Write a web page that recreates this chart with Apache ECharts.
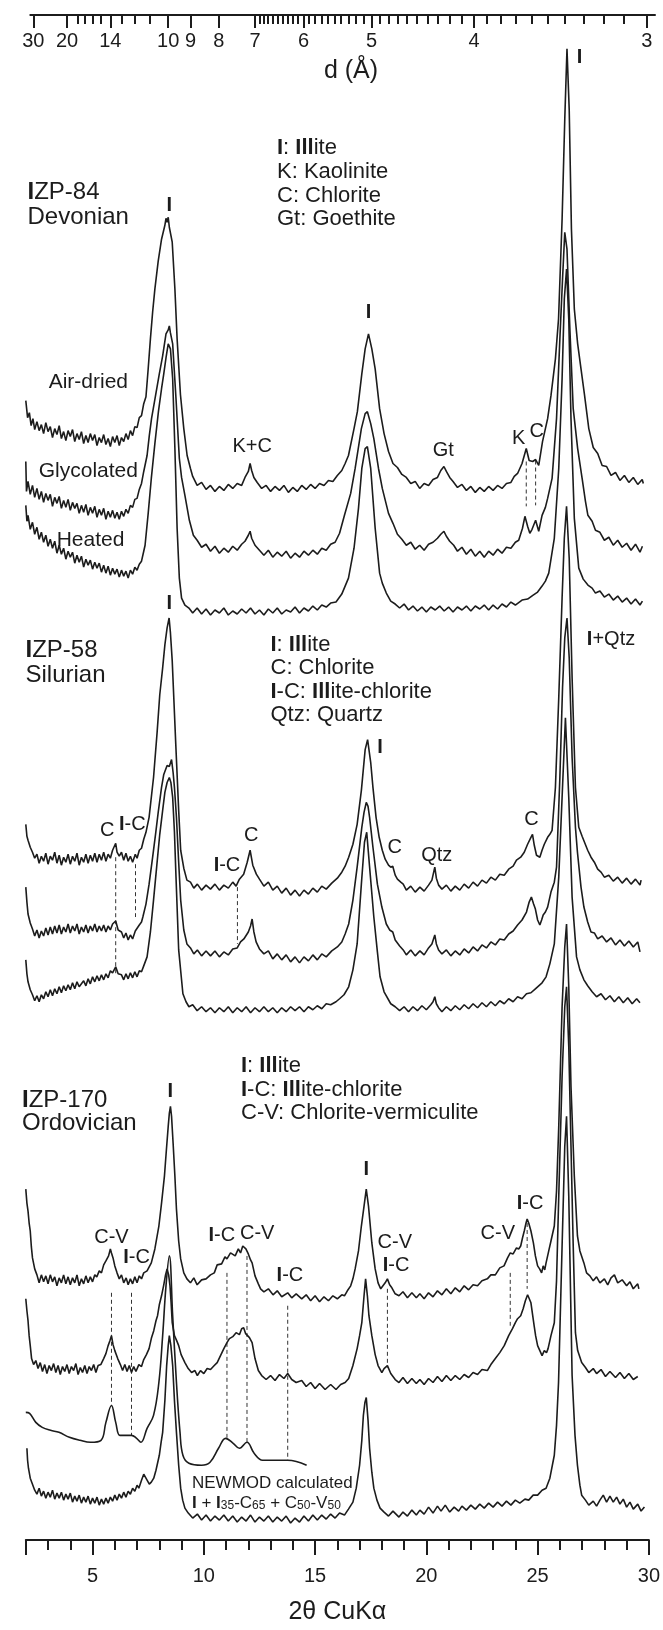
<!DOCTYPE html>
<html><head><meta charset="utf-8">
<script src="https://cdn.jsdelivr.net/npm/echarts/dist/echarts.min.js"></script>
<style>html,body{margin:0;padding:0;background:#fff}#c{width:663px;height:1630px}</style>
</head><body><div id="c"></div>
<script>
// ---------- tick labels ----------
const ttMajorTicks = [2,5,10,15,20,25,30];
const ttLabels = [5,10,15,20,25,30];
const ttMinorTicks = [3,4,6,7,8,9,11,12,13,14,16,17,18,19,21,22,23,24,26,27,28,29];
const dLabels = [30,20,14,10,9,8,7,6,5,4,3];
const dMinorTicks = [18,17,16,15,13,12,11,6.9,6.8,6.7,6.6,6.5,6.4,6.3,6.2,6.1,5.9,5.8,5.7,5.6,5.5,5.4,5.3,5.2,5.1,4.9,4.8,4.7,4.6,4.5,4.4,4.3,4.2,4.1,3.9,3.8,3.7,3.6,3.5,3.4,3.3,3.2,3.1];

// ---------- traces: [2theta, stacked intensity (a.u.)] ----------
const izp84AirDried = [[2.0,1143],[2.08,1126],[2.16,1131],[2.24,1118],[2.32,1125],[2.4,1114],[2.5,1122],[2.6,1113],[2.7,1119],[2.8,1110],[2.9,1121],[3.0,1112],[3.1,1117],[3.2,1106],[3.3,1115],[3.4,1109],[3.5,1118],[3.6,1105],[3.7,1112],[3.8,1103],[3.9,1113],[4.0,1107],[4.1,1114],[4.2,1102],[4.3,1110],[4.4,1104],[4.5,1112],[4.6,1100],[4.7,1108],[4.8,1101],[4.9,1110],[5.0,1103],[5.1,1109],[5.2,1098],[5.3,1106],[5.4,1101],[5.5,1109],[5.6,1099],[5.7,1105],[5.8,1097],[5.9,1107],[6.0,1101],[6.1,1108],[6.2,1098],[6.3,1106],[6.4,1102],[6.5,1110],[6.6,1104],[6.7,1113],[6.8,1108],[6.9,1117],[7.0,1116],[7.1,1126],[7.2,1128],[7.3,1140],[7.4,1147],[7.5,1175],[7.6,1205],[7.7,1232],[7.8,1255],[7.95,1283],[8.1,1305],[8.25,1319],[8.3,1326],[8.35,1322],[8.4,1327],[8.45,1317],[8.58,1302],[8.7,1255],[8.8,1205],[8.95,1149],[9.1,1115],[9.25,1088],[9.4,1075],[9.5,1067],[9.7,1058],[9.9,1061],[10.1,1054],[10.3,1058],[10.5,1052],[10.7,1057],[10.9,1053],[11.1,1059],[11.3,1055],[11.5,1060],[11.7,1058],[11.85,1066],[12.0,1072],[12.08,1080],[12.15,1073],[12.25,1066],[12.4,1061],[12.6,1055],[12.8,1058],[13.0,1052],[13.2,1057],[13.4,1053],[13.6,1058],[13.8,1051],[14.0,1056],[14.2,1052],[14.4,1058],[14.6,1054],[14.8,1059],[15.0,1055],[15.2,1060],[15.4,1058],[15.6,1063],[15.8,1062],[16.0,1068],[16.2,1073],[16.35,1080],[16.5,1088],[16.75,1115],[16.9,1132],[17.1,1170],[17.25,1195],[17.4,1210],[17.55,1195],[17.7,1175],[17.9,1135],[18.1,1110],[18.3,1092],[18.5,1080],[18.7,1076],[18.9,1069],[19.1,1066],[19.3,1060],[19.5,1062],[19.7,1055],[19.9,1060],[20.1,1058],[20.3,1064],[20.5,1066],[20.65,1073],[20.79,1077],[20.9,1072],[21.05,1066],[21.2,1062],[21.4,1056],[21.6,1059],[21.8,1053],[22.0,1057],[22.2,1051],[22.4,1056],[22.6,1052],[22.8,1057],[23.0,1053],[23.2,1058],[23.4,1055],[23.6,1060],[23.8,1061],[23.95,1067],[24.1,1070],[24.3,1080],[24.49,1095],[24.62,1083],[24.78,1082],[24.91,1084],[25.05,1078],[25.22,1102],[25.45,1125],[25.6,1148],[25.8,1185],[25.94,1225],[26.1,1325],[26.22,1425],[26.32,1496],[26.42,1435],[26.52,1315],[26.65,1235],[26.8,1200],[26.95,1175],[27.1,1150],[27.3,1115],[27.5,1096],[27.7,1090],[27.9,1078],[28.1,1077],[28.3,1068],[28.5,1071],[28.7,1063],[28.9,1068],[29.1,1061],[29.3,1066],[29.5,1059],[29.7,1064],[29.75,1060]];
const izp84Glycolated = [[2.0,1082],[2.03,1052],[2.1,1062],[2.2,1049],[2.3,1058],[2.4,1046],[2.5,1055],[2.6,1044],[2.7,1052],[2.8,1041],[2.9,1050],[3.0,1043],[3.1,1049],[3.2,1037],[3.3,1046],[3.4,1040],[3.5,1047],[3.6,1035],[3.7,1043],[3.8,1036],[3.9,1044],[4.0,1033],[4.1,1041],[4.2,1035],[4.3,1040],[4.4,1030],[4.5,1038],[4.6,1031],[4.7,1039],[4.8,1028],[4.9,1036],[5.0,1030],[5.1,1037],[5.2,1026],[5.3,1034],[5.4,1028],[5.5,1035],[5.6,1024],[5.7,1032],[5.8,1026],[5.9,1033],[6.0,1025],[6.1,1031],[6.2,1024],[6.3,1032],[6.4,1027],[6.5,1034],[6.6,1030],[6.7,1038],[6.8,1036],[6.9,1044],[7.0,1045],[7.1,1054],[7.2,1060],[7.3,1072],[7.45,1088],[7.55,1108],[7.65,1125],[7.83,1148],[8.0,1170],[8.15,1188],[8.3,1210],[8.4,1214],[8.45,1218],[8.5,1211],[8.6,1200],[8.75,1145],[8.9,1085],[9.0,1066],[9.15,1048],[9.35,1023],[9.53,1008],[9.7,1003],[9.9,996],[10.1,999],[10.3,992],[10.5,997],[10.7,990],[10.9,995],[11.1,991],[11.3,997],[11.5,993],[11.7,999],[11.85,1002],[12.0,1008],[12.08,1012],[12.15,1005],[12.3,998],[12.5,993],[12.7,988],[12.9,993],[13.1,986],[13.3,991],[13.5,987],[13.7,992],[13.9,985],[14.1,990],[14.3,986],[14.5,992],[14.7,988],[14.9,993],[15.1,989],[15.3,995],[15.5,993],[15.7,999],[15.9,1001],[16.1,1010],[16.32,1028],[16.6,1050],[16.8,1075],[17.08,1115],[17.25,1130],[17.35,1132],[17.5,1120],[17.64,1105],[17.85,1075],[18.02,1055],[18.3,1030],[18.5,1020],[18.7,1009],[18.9,1004],[19.1,998],[19.3,1001],[19.5,994],[19.7,998],[19.9,993],[20.1,999],[20.3,1001],[20.5,1005],[20.65,1009],[20.79,1012],[20.9,1007],[21.05,1002],[21.23,998],[21.4,992],[21.6,996],[21.8,989],[22.0,994],[22.2,987],[22.4,992],[22.6,986],[22.8,992],[23.0,988],[23.2,994],[23.4,990],[23.6,996],[23.8,995],[24.0,1001],[24.15,1003],[24.32,1015],[24.43,1027],[24.55,1017],[24.65,1010],[24.75,1014],[24.91,1023],[25.05,1012],[25.2,1028],[25.35,1036],[25.45,1045],[25.65,1065],[25.85,1125],[26.0,1205],[26.12,1265],[26.22,1312],[26.32,1295],[26.45,1215],[26.6,1135],[26.8,1095],[27.0,1065],[27.15,1042],[27.26,1028],[27.45,1022],[27.6,1013],[27.8,1011],[28.0,1003],[28.2,1006],[28.4,998],[28.6,1003],[28.8,996],[29.0,1000],[29.2,993],[29.4,999],[29.6,991],[29.71,997]];
const izp84Heated = [[2.0,1038],[2.05,1022],[2.1,1028],[2.2,1014],[2.3,1021],[2.4,1009],[2.5,1016],[2.6,1004],[2.7,1011],[2.8,1001],[2.9,1008],[3.0,997],[3.1,1004],[3.2,995],[3.3,1002],[3.4,990],[3.5,998],[3.6,989],[3.7,995],[3.8,984],[3.9,992],[4.0,986],[4.1,991],[4.2,980],[4.3,988],[4.4,981],[4.5,987],[4.6,976],[4.7,984],[4.8,978],[4.9,983],[5.0,974],[5.1,981],[5.2,975],[5.3,980],[5.4,971],[5.5,978],[5.6,970],[5.7,977],[5.8,968],[5.9,975],[6.0,969],[6.1,974],[6.2,966],[6.3,973],[6.4,967],[6.5,972],[6.6,965],[6.7,973],[6.8,969],[6.9,976],[7.0,973],[7.1,979],[7.2,982],[7.3,992],[7.36,998],[7.5,1030],[7.64,1065],[7.8,1100],[7.96,1132],[8.1,1155],[8.2,1170],[8.3,1186],[8.4,1200],[8.5,1195],[8.6,1165],[8.7,1095],[8.8,1015],[8.9,965],[9.0,945],[9.15,938],[9.33,935],[9.5,930],[9.7,935],[9.9,929],[10.1,934],[10.3,928],[10.5,933],[10.7,930],[10.9,935],[11.1,928],[11.3,932],[11.5,929],[11.7,934],[11.9,930],[12.1,935],[12.3,929],[12.5,933],[12.7,928],[12.9,934],[13.1,930],[13.3,935],[13.5,929],[13.7,933],[13.9,931],[14.1,936],[14.3,930],[14.5,935],[14.7,932],[14.9,937],[15.1,933],[15.3,938],[15.5,936],[15.7,940],[15.94,941],[16.2,949],[16.5,965],[16.75,995],[16.95,1035],[17.1,1075],[17.25,1095],[17.35,1097],[17.5,1075],[17.7,1015],[17.9,970],[18.02,960],[18.2,950],[18.4,942],[18.6,939],[18.8,935],[19.0,939],[19.2,933],[19.4,937],[19.6,932],[19.8,936],[20.0,931],[20.2,936],[20.4,933],[20.6,937],[20.8,932],[21.0,936],[21.2,931],[21.4,936],[21.6,933],[21.8,937],[22.0,932],[22.2,937],[22.4,934],[22.6,938],[22.8,933],[23.0,938],[23.2,934],[23.4,939],[23.6,936],[23.8,941],[24.0,938],[24.3,943],[24.55,944],[24.8,948],[25.0,951],[25.2,957],[25.35,962],[25.5,970],[25.75,1005],[25.95,1075],[26.1,1165],[26.2,1245],[26.3,1275],[26.4,1225],[26.5,1125],[26.65,1025],[26.85,975],[27.05,964],[27.26,958],[27.45,955],[27.6,950],[27.8,952],[28.0,946],[28.2,949],[28.4,943],[28.6,947],[28.8,941],[29.0,945],[29.2,939],[29.4,944],[29.6,938],[29.71,942]];
const izp58AirDried = [[2.0,718],[2.05,706],[2.1,702],[2.2,695],[2.3,690],[2.4,684],[2.5,688],[2.6,679],[2.7,686],[2.8,681],[2.9,689],[3.0,678],[3.1,686],[3.2,682],[3.3,690],[3.4,679],[3.5,687],[3.6,677],[3.7,685],[3.8,680],[3.9,688],[4.0,678],[4.1,686],[4.2,681],[4.3,689],[4.4,677],[4.5,685],[4.6,680],[4.7,688],[4.8,679],[4.9,687],[5.0,681],[5.1,689],[5.2,680],[5.3,688],[5.4,682],[5.5,690],[5.6,681],[5.7,688],[5.8,684],[5.9,692],[5.98,690],[6.04,699],[6.1,690],[6.2,686],[6.3,690],[6.4,682],[6.5,689],[6.6,681],[6.7,686],[6.8,680],[6.92,688],[7.0,684],[7.1,692],[7.2,694],[7.3,703],[7.4,710],[7.54,725],[7.74,765],[7.9,810],[8.02,848],[8.15,875],[8.25,898],[8.35,915],[8.44,925],[8.5,910],[8.58,882],[8.66,840],[8.74,798],[8.87,732],[8.96,692],[9.1,674],[9.24,662],[9.4,660],[9.55,654],[9.71,658],[9.9,652],[10.1,657],[10.3,653],[10.5,658],[10.7,652],[10.9,657],[11.1,654],[11.3,660],[11.45,656],[11.6,663],[11.79,668],[11.95,680],[12.08,692],[12.2,677],[12.36,668],[12.5,663],[12.7,656],[12.9,660],[13.1,652],[13.3,656],[13.5,649],[13.7,654],[13.9,647],[14.1,652],[14.3,646],[14.5,652],[14.7,648],[14.9,654],[15.1,650],[15.3,656],[15.5,653],[15.75,659],[16.0,664],[16.2,670],[16.35,676],[16.51,685],[16.7,698],[16.89,718],[17.08,752],[17.25,793],[17.36,803],[17.5,780],[17.6,755],[17.74,725],[17.88,705],[18.02,692],[18.15,683],[18.3,677],[18.4,675],[18.49,676],[18.6,667],[18.7,663],[18.85,660],[18.96,658],[19.1,652],[19.3,656],[19.5,650],[19.71,655],[19.9,651],[20.1,657],[20.25,662],[20.38,675],[20.45,664],[20.55,657],[20.7,653],[20.9,657],[21.1,651],[21.3,656],[21.5,652],[21.7,658],[21.9,654],[22.1,660],[22.3,656],[22.5,662],[22.7,659],[22.9,665],[23.1,662],[23.3,668],[23.5,667],[23.7,673],[23.9,676],[24.05,682],[24.24,685],[24.4,690],[24.55,698],[24.7,705],[24.77,708],[24.85,697],[24.95,687],[25.1,685],[25.2,692],[25.3,698],[25.45,705],[25.55,708],[25.65,712],[25.8,755],[25.95,845],[26.1,945],[26.2,1005],[26.3,1037],[26.42,985],[26.55,865],[26.7,755],[26.85,715],[27.0,706],[27.08,705],[27.25,692],[27.4,685],[27.55,680],[27.7,673],[27.85,670],[28.0,665],[28.2,667],[28.4,661],[28.6,665],[28.8,659],[29.0,664],[29.2,658],[29.4,663],[29.6,657],[29.65,662]];
const izp58Glycolated = [[2.0,655],[2.05,640],[2.1,628],[2.2,619],[2.3,613],[2.4,606],[2.5,612],[2.6,604],[2.7,611],[2.8,606],[2.9,614],[3.0,607],[3.1,615],[3.2,608],[3.3,616],[3.4,609],[3.5,617],[3.6,608],[3.7,615],[3.8,610],[3.9,618],[4.0,609],[4.1,616],[4.2,611],[4.3,618],[4.4,608],[4.5,615],[4.6,610],[4.7,617],[4.8,609],[4.9,616],[5.0,611],[5.1,618],[5.2,610],[5.3,616],[5.4,611],[5.5,617],[5.6,610],[5.7,616],[5.8,612],[5.9,618],[6.04,621],[6.15,612],[6.3,610],[6.4,604],[6.5,609],[6.6,602],[6.7,607],[6.8,603],[6.92,611],[7.0,609],[7.1,617],[7.2,620],[7.26,625],[7.4,638],[7.54,658],[7.7,685],[7.83,708],[7.95,730],[8.1,755],[8.2,768],[8.35,777],[8.45,776],[8.55,783],[8.62,770],[8.68,755],[8.77,725],[8.87,680],[8.96,642],[9.1,612],[9.24,598],[9.4,594],[9.55,588],[9.71,592],[9.9,586],[10.1,591],[10.3,586],[10.5,591],[10.7,585],[10.9,590],[11.1,587],[11.3,593],[11.5,594],[11.65,600],[11.8,603],[12.0,610],[12.1,616],[12.17,623],[12.25,610],[12.35,600],[12.5,593],[12.7,588],[12.9,591],[13.1,583],[13.3,588],[13.5,582],[13.7,587],[13.9,580],[14.1,585],[14.3,579],[14.5,585],[14.7,581],[14.9,587],[15.1,582],[15.3,588],[15.5,585],[15.75,591],[16.0,595],[16.2,600],[16.35,608],[16.51,618],[16.7,642],[16.89,675],[17.1,715],[17.2,730],[17.3,740],[17.38,736],[17.45,725],[17.6,695],[17.8,658],[18.0,635],[18.2,618],[18.35,612],[18.49,610],[18.6,602],[18.8,596],[18.96,592],[19.1,587],[19.3,592],[19.5,586],[19.71,591],[19.9,587],[20.1,594],[20.25,598],[20.38,607],[20.45,598],[20.55,592],[20.7,588],[20.9,592],[21.1,586],[21.3,591],[21.5,587],[21.7,593],[21.9,589],[22.1,595],[22.3,591],[22.5,597],[22.7,594],[22.9,600],[23.1,597],[23.3,603],[23.5,602],[23.7,608],[23.9,611],[24.1,617],[24.3,622],[24.5,630],[24.62,640],[24.72,645],[24.82,638],[24.9,633],[25.0,622],[25.1,617],[25.18,622],[25.25,627],[25.35,630],[25.45,635],[25.6,650],[25.75,660],[25.85,675],[26.0,765],[26.12,855],[26.22,905],[26.32,925],[26.42,885],[26.55,785],[26.7,715],[26.79,690],[26.95,655],[27.08,635],[27.25,620],[27.4,610],[27.55,609],[27.7,603],[27.9,606],[28.1,600],[28.3,604],[28.5,597],[28.7,602],[28.9,596],[29.1,601],[29.3,595],[29.5,600],[29.6,590]];
const izp58Heated = [[2.0,582],[2.05,568],[2.1,560],[2.2,552],[2.3,547],[2.4,541],[2.5,546],[2.6,540],[2.7,547],[2.8,543],[2.9,550],[3.0,545],[3.1,552],[3.2,546],[3.3,553],[3.4,548],[3.5,555],[3.6,549],[3.7,556],[3.8,551],[3.9,557],[4.0,552],[4.1,559],[4.2,553],[4.3,560],[4.4,555],[4.6,561],[4.7,556],[4.8,563],[4.9,558],[5.0,565],[5.1,560],[5.2,566],[5.3,561],[5.4,567],[5.5,562],[5.6,568],[5.7,564],[5.8,571],[5.9,569],[6.04,575],[6.15,568],[6.3,567],[6.4,562],[6.5,568],[6.6,563],[6.7,569],[6.8,564],[6.9,570],[7.0,565],[7.1,571],[7.2,570],[7.3,576],[7.45,585],[7.6,610],[7.74,642],[7.88,675],[8.02,708],[8.15,732],[8.25,750],[8.35,760],[8.45,765],[8.52,760],[8.6,745],[8.68,710],[8.75,665],[8.87,592],[9.06,548],[9.2,540],[9.33,535],[9.5,537],[9.7,531],[9.9,535],[10.1,530],[10.3,534],[10.5,529],[10.7,534],[10.9,530],[11.1,535],[11.3,529],[11.5,534],[11.7,530],[11.9,535],[12.1,529],[12.3,534],[12.5,530],[12.7,535],[12.9,530],[13.1,534],[13.3,529],[13.5,534],[13.7,530],[13.9,535],[14.1,531],[14.3,535],[14.5,530],[14.7,535],[14.9,532],[15.1,536],[15.3,533],[15.5,538],[15.7,537],[15.94,540],[16.1,543],[16.3,547],[16.51,555],[16.7,572],[16.89,598],[17.08,658],[17.22,700],[17.32,710],[17.45,675],[17.64,625],[17.8,590],[17.92,565],[18.1,550],[18.4,538],[18.6,535],[18.8,531],[19.0,535],[19.2,530],[19.4,535],[19.6,531],[19.8,536],[20.0,532],[20.2,537],[20.3,540],[20.38,545],[20.45,538],[20.55,534],[20.7,530],[20.9,535],[21.1,531],[21.3,536],[21.5,532],[21.7,537],[21.9,533],[22.1,538],[22.3,534],[22.5,539],[22.7,535],[22.9,540],[23.1,536],[23.3,541],[23.5,538],[23.7,543],[23.9,540],[24.1,545],[24.3,543],[24.5,548],[24.7,549],[24.9,553],[25.0,555],[25.2,559],[25.38,565],[25.55,578],[25.75,598],[25.95,665],[26.1,745],[26.25,825],[26.4,745],[26.55,645],[26.75,585],[26.9,572],[27.08,562],[27.25,556],[27.45,550],[27.65,545],[27.85,548],[28.05,542],[28.25,546],[28.45,540],[28.65,545],[28.85,539],[29.05,544],[29.25,538],[29.45,543],[29.6,539]];
const izp170AirDried = [[2.0,352],[2.05,338],[2.1,330],[2.15,318],[2.2,310],[2.25,294],[2.3,283],[2.4,272],[2.5,266],[2.6,258],[2.7,266],[2.8,259],[2.9,265],[3.0,257],[3.1,266],[3.2,259],[3.3,264],[3.4,255],[3.5,263],[3.6,258],[3.7,266],[3.8,257],[3.9,264],[4.0,256],[4.1,263],[4.2,258],[4.3,266],[4.4,255],[4.5,262],[4.6,257],[4.7,265],[4.8,258],[4.9,264],[5.0,259],[5.1,266],[5.19,264],[5.3,270],[5.4,268],[5.5,276],[5.6,280],[5.72,285],[5.8,292],[5.85,288],[5.92,283],[6.0,275],[6.1,268],[6.2,262],[6.3,266],[6.4,258],[6.51,263],[6.6,256],[6.7,262],[6.8,257],[6.9,264],[7.0,258],[7.1,265],[7.2,262],[7.3,268],[7.45,270],[7.64,278],[7.8,292],[7.98,315],[8.1,338],[8.23,365],[8.32,392],[8.4,415],[8.45,428],[8.5,435],[8.55,425],[8.62,398],[8.7,365],[8.77,332],[8.87,300],[8.96,282],[9.1,268],[9.24,262],[9.4,258],[9.55,263],[9.7,256],[9.9,261],[10.1,262],[10.3,266],[10.47,268],[10.6,276],[10.8,277],[10.95,284],[11.04,282],[11.2,288],[11.41,285],[11.55,292],[11.65,288],[11.75,295],[11.89,292],[12.0,287],[12.1,281],[12.17,278],[12.3,265],[12.45,257],[12.55,252],[12.7,249],[12.9,252],[13.11,246],[13.3,250],[13.5,244],[13.77,248],[13.95,243],[14.15,247],[14.4,242],[14.6,246],[14.8,240],[15.0,245],[15.2,239],[15.4,244],[15.6,240],[15.8,245],[16.0,242],[16.2,246],[16.32,245],[16.45,250],[16.6,255],[16.7,262],[16.8,272],[16.95,290],[17.08,315],[17.2,335],[17.3,352],[17.4,335],[17.55,298],[17.7,272],[17.83,258],[17.95,252],[18.05,255],[18.15,258],[18.25,262],[18.35,256],[18.45,253],[18.6,247],[18.77,245],[18.95,249],[19.15,243],[19.35,248],[19.55,243],[19.71,247],[19.9,242],[20.1,248],[20.3,244],[20.5,250],[20.7,246],[20.9,252],[21.1,247],[21.3,253],[21.5,249],[21.7,255],[21.9,251],[22.1,256],[22.3,255],[22.5,260],[22.74,262],[22.9,266],[23.1,266],[23.3,273],[23.49,275],[23.65,283],[23.77,288],[23.9,287],[24.05,293],[24.15,292],[24.24,295],[24.32,303],[24.4,310],[24.48,318],[24.53,322],[24.6,318],[24.7,310],[24.81,298],[24.9,285],[25.0,275],[25.09,272],[25.18,268],[25.25,275],[25.32,271],[25.38,278],[25.5,290],[25.6,300],[25.75,315],[25.85,350],[25.95,415],[26.1,535],[26.22,595],[26.3,618],[26.4,555],[26.5,455],[26.65,365],[26.79,305],[26.9,290],[27.08,278],[27.2,268],[27.35,265],[27.5,260],[27.65,264],[27.8,258],[28.0,262],[28.15,256],[28.3,263],[28.45,266],[28.6,258],[28.8,261],[29.0,255],[29.15,259],[29.3,252],[29.5,257],[29.55,252]];
const izp170Glycolated = [[2.0,242],[2.05,230],[2.1,220],[2.15,205],[2.2,195],[2.26,182],[2.35,176],[2.45,180],[2.55,172],[2.65,178],[2.75,169],[2.85,176],[2.95,167],[3.05,175],[3.15,170],[3.25,177],[3.35,168],[3.45,175],[3.55,166],[3.65,174],[3.75,169],[3.85,176],[3.95,167],[4.05,174],[4.15,170],[4.25,177],[4.35,166],[4.45,173],[4.55,168],[4.65,175],[4.75,167],[4.85,174],[4.95,170],[5.05,176],[5.15,168],[5.25,175],[5.37,176],[5.5,182],[5.6,187],[5.7,195],[5.78,200],[5.85,205],[5.92,196],[6.0,190],[6.13,182],[6.25,176],[6.35,170],[6.45,176],[6.55,169],[6.65,175],[6.75,168],[6.85,174],[6.95,169],[7.08,176],[7.2,174],[7.3,181],[7.42,186],[7.54,192],[7.65,203],[7.75,210],[7.85,220],[7.92,225],[8.0,236],[8.1,245],[8.2,256],[8.28,266],[8.35,272],[8.42,266],[8.48,255],[8.53,238],[8.58,218],[8.68,205],[8.78,200],[8.87,195],[8.98,186],[9.15,178],[9.3,172],[9.45,168],[9.6,170],[9.71,165],[9.85,170],[10.0,167],[10.15,172],[10.3,171],[10.47,175],[10.6,178],[10.75,185],[10.9,192],[11.04,198],[11.15,202],[11.3,204],[11.45,208],[11.6,206],[11.7,212],[11.79,213],[11.88,207],[11.95,208],[12.05,203],[12.17,198],[12.3,182],[12.45,170],[12.6,165],[12.8,161],[13.0,165],[13.2,160],[13.4,166],[13.6,162],[13.77,167],[13.95,161],[14.15,158],[14.4,160],[14.6,154],[14.8,158],[15.0,152],[15.2,157],[15.45,151],[15.7,156],[15.94,151],[16.15,156],[16.35,158],[16.51,162],[16.7,175],[16.89,192],[17.0,205],[17.1,218],[17.2,245],[17.27,262],[17.35,245],[17.42,225],[17.55,205],[17.7,186],[17.83,175],[18.0,168],[18.1,172],[18.25,175],[18.4,167],[18.6,161],[18.77,158],[18.95,163],[19.15,157],[19.35,162],[19.55,157],[19.71,161],[19.9,156],[20.1,162],[20.3,158],[20.5,164],[20.7,159],[20.9,165],[21.1,160],[21.3,165],[21.5,161],[21.7,166],[21.9,163],[22.1,168],[22.3,166],[22.5,171],[22.74,170],[22.9,176],[23.1,182],[23.3,188],[23.5,195],[23.7,205],[23.87,212],[24.0,218],[24.1,222],[24.24,225],[24.35,232],[24.45,240],[24.55,246],[24.62,248],[24.7,238],[24.78,225],[24.85,214],[24.91,205],[25.0,195],[25.1,190],[25.2,185],[25.3,190],[25.4,188],[25.47,192],[25.6,205],[25.75,218],[25.85,260],[25.95,345],[26.1,465],[26.22,535],[26.3,555],[26.4,495],[26.5,395],[26.6,295],[26.7,208],[26.8,190],[26.98,178],[27.15,173],[27.3,168],[27.5,172],[27.65,167],[27.85,171],[28.05,164],[28.25,169],[28.5,163],[28.7,168],[28.9,162],[29.1,167],[29.3,161],[29.5,164]];
const izp170Newmod = [[2.0,128],[2.17,127],[2.45,118],[2.74,113],[3.11,110],[3.49,108],[3.96,103],[4.43,100],[4.91,98],[5.38,100],[5.6,118],[5.85,135],[6.04,118],[6.23,105],[6.51,105],[6.75,105],[6.98,102],[7.17,98],[7.45,112],[7.74,125],[7.98,158],[8.15,205],[8.3,255],[8.45,285],[8.6,225],[8.77,158],[8.93,108],[9.06,85],[9.33,77],[9.9,75],[10.28,78],[10.66,92],[10.98,102],[11.32,97],[11.6,92],[11.94,98],[12.26,87],[12.64,80],[13.11,80],[13.77,80],[14.62,75]];
const izp170Heated = [[2.05,92],[2.08,80],[2.12,72],[2.2,62],[2.3,56],[2.4,50],[2.5,46],[2.6,52],[2.7,44],[2.8,49],[2.9,42],[3.0,48],[3.1,43],[3.2,50],[3.3,41],[3.4,47],[3.5,42],[3.6,48],[3.7,40],[3.8,46],[3.9,41],[4.0,47],[4.1,38],[4.2,44],[4.3,39],[4.4,45],[4.5,37],[4.6,43],[4.7,38],[4.8,44],[4.9,36],[5.0,42],[5.1,37],[5.2,43],[5.3,35],[5.4,41],[5.5,36],[5.6,42],[5.7,37],[5.8,43],[5.9,39],[6.0,45],[6.1,40],[6.2,46],[6.3,42],[6.4,48],[6.5,43],[6.6,49],[6.7,46],[6.8,52],[6.9,49],[7.0,55],[7.08,52],[7.2,60],[7.3,66],[7.36,68],[7.45,60],[7.55,56],[7.64,58],[7.75,62],[7.85,70],[7.92,72],[8.0,85],[8.08,98],[8.15,108],[8.25,140],[8.33,175],[8.4,195],[8.45,205],[8.52,195],[8.6,175],[8.68,140],[8.77,108],[8.87,75],[8.96,52],[9.05,40],[9.15,32],[9.3,27],[9.5,22],[9.71,26],[9.9,20],[10.1,25],[10.3,19],[10.5,24],[10.7,20],[10.9,25],[11.1,19],[11.3,24],[11.5,18],[11.7,23],[11.9,19],[12.1,25],[12.3,18],[12.5,23],[12.7,19],[12.9,24],[13.1,18],[13.3,23],[13.5,19],[13.7,24],[13.9,17],[14.1,22],[14.3,18],[14.5,24],[14.7,19],[14.9,25],[15.1,20],[15.3,25],[15.5,21],[15.7,26],[15.9,22],[16.1,27],[16.32,25],[16.5,31],[16.7,38],[16.85,52],[17.0,75],[17.1,100],[17.17,125],[17.24,138],[17.3,143],[17.38,120],[17.45,92],[17.55,68],[17.64,52],[17.78,40],[17.92,32],[18.1,28],[18.3,24],[18.5,29],[18.77,23],[18.95,28],[19.15,24],[19.35,30],[19.55,25],[19.71,30],[19.9,26],[20.1,33],[20.3,27],[20.5,34],[20.66,29],[20.85,35],[21.05,28],[21.25,33],[21.45,29],[21.6,34],[21.8,30],[22.0,35],[22.2,31],[22.4,36],[22.6,32],[22.8,37],[23.0,33],[23.2,38],[23.4,34],[23.6,39],[23.8,35],[24.0,40],[24.2,37],[24.43,41],[24.6,40],[24.8,45],[25.0,45],[25.2,50],[25.38,52],[25.55,62],[25.75,85],[25.85,115],[25.94,158],[26.1,295],[26.22,395],[26.3,425],[26.4,345],[26.55,165],[26.68,105],[26.79,75],[26.9,55],[26.98,45],[27.15,40],[27.3,35],[27.5,39],[27.65,34],[27.8,40],[27.95,45],[28.1,38],[28.25,44],[28.4,38],[28.55,43],[28.7,36],[28.85,41],[29.0,33],[29.15,38],[29.3,31],[29.5,36],[29.65,29],[29.8,33]];

// dashed peak markers: [2theta, upper, lower]
const dashedMarkers = [[24.49,1082,1037],[24.91,1083,1038],[6.04,685,568],[6.93,678,625],[11.51,655,598],[5.85,248,135],[6.75,248,105],[11.04,268,102],[11.94,285,98],[13.77,235,80],[18.25,252,173],[23.77,268,215],[24.53,318,252]];

// peak annotations: [2theta, intensity, text]
const peakLabels = [[8.45,1339,'I'],[17.40,1231,'I'],[26.88,1487,'I'],[12.17,1097,'K+C'],[20.76,1093,'Gt'],[24.15,1105,'K'],[24.96,1112,'C'],
 [8.45,940,'I'],[17.92,795,'I'],[28.30,903,'I+Qtz'],[5.66,712,'C'],[6.79,718,'I-C'],[12.13,707,'C'],[11.04,677,'I-C'],[18.58,695,'C'],[20.47,687,'Qtz'],[24.72,723,'C'],
 [8.49,450,'I'],[17.30,372,'I'],[5.85,303,'C-V'],[6.98,283,'I-C'],[10.81,306,'I-C'],[12.40,308,'C-V'],[13.87,265,'I-C'],[18.58,298,'C-V'],[18.64,275,'I-C'],[23.21,308,'C-V'],[24.66,338,'I-C']];
const sampleLabels = [[4.81,1162,'Air-dried'],[4.81,1072,'Glycolated'],[4.91,1003,'Heated']];

const traces = [izp84AirDried, izp84Glycolated, izp84Heated, izp58AirDried, izp58Glycolated, izp58Heated, izp170AirDried, izp170Glycolated, izp170Heated];

const FONT = '"Liberation Sans", Arial, Helvetica, sans-serif';
const INK = '#1c1c1c';
const LAMBDA = 1.5406;
const twoTheta = d => 2 * Math.asin(LAMBDA / (2 * d)) * 180 / Math.PI;
const bolden = s => s.replace(/Ill|I/g, m => '{b|' + m + '}');

const chart = echarts.init(document.getElementById('c'), null, {renderer: 'canvas'});

const series = [];
traces.forEach(t => series.push({type: 'line', data: t, xAxisIndex: 0, yAxisIndex: 0, showSymbol: false, symbol: 'none', silent: true,
  lineStyle: {color: INK, width: 1.6}, z: 3}));
series.push({type: 'line', data: izp170Newmod, xAxisIndex: 0, yAxisIndex: 0, showSymbol: false, symbol: 'none', smooth: 0.4, silent: true,
  lineStyle: {color: INK, width: 1.6}, z: 3});
dashedMarkers.forEach(m => series.push({type: 'line', data: [[m[0], m[1]], [m[0], m[2]]], xAxisIndex: 0, yAxisIndex: 0, showSymbol: false, symbol: 'none', silent: true,
  lineStyle: {color: '#333', width: 1, type: [4, 3]}, z: 2}));

const textItems = [
  ['IZP-84', 27.5, 192, 24], ['Devonian', 27.5, 217, 24],
  ['I: Illite', 277, 148, 22], ['K: Kaolinite', 277, 172, 22], ['C: Chlorite', 277, 196, 22], ['Gt: Goethite', 277, 219, 22],
  ['IZP-58', 25.5, 650, 24], ['Silurian', 25.5, 675, 24],
  ['I: Illite', 270.5, 645, 22], ['C: Chlorite', 270.5, 668, 22], ['I-C: Illite-chlorite', 270.5, 692, 22], ['Qtz: Quartz', 270.5, 715, 22],
  ['IZP-170', 22, 1100, 24], ['Ordovician', 22, 1123, 24],
  ['I: Illite', 241, 1066, 22], ['I-C: Illite-chlorite', 241, 1090, 22], ['C-V: Chlorite-vermiculite', 241, 1113, 22],
  ['NEWMOD calculated', 192, 1483, 17]
];
const textEl = (text, x, y, size, align) => ({type: 'text', x: x, y: y, silent: true, z: 10,
  style: {text: bolden(text), fill: INK, fontSize: size, fontFamily: FONT, align: align, verticalAlign: 'middle',
    rich: {b: {fontWeight: 'bold', fontSize: size, fontFamily: FONT, fill: INK}}}});
const graphic = textItems.map(t => textEl(t[0], t[1], t[2], t[3], 'left'));
graphic.push({type: 'text', x: 192, y: 1503, silent: true, z: 10,
  style: {text: '{b|I} + {b|I}{s|35}-C{s|65} + C{s|50}-V{s|50}', fill: INK, fontSize: 17, fontFamily: FONT, align: 'left', verticalAlign: 'middle',
    rich: {b: {fontWeight: 'bold', fontSize: 17, fontFamily: FONT, fill: INK}, s: {fontSize: 12, fontFamily: FONT, fill: INK, verticalAlign: 'bottom', padding: [6, 0, 0, 0]}}}});
graphic.push({type: 'text', x: 351, y: 71, silent: true, z: 10,
  style: {text: 'd (Å)', fill: INK, fontSize: 25, fontFamily: FONT, align: 'center', verticalAlign: 'middle'}});

const dMajorTT = dLabels.map(twoTheta);
const dMinorTT = dMinorTicks.map(twoTheta);
const axisLineStyle = {color: INK, width: 2};
const TOP_MIN = 2.81, TOP_MAX = 30.12;

chart.setOption({
  animation: false,
  backgroundColor: '#fff',
  grid: [
    {left: 25.8, right: 10, top: 0, bottom: 85},
    {left: 30.3, right: 8, top: 15, height: 20}
  ],
  xAxis: [
    {gridIndex: 0, type: 'value', min: 2, max: 30, position: 'bottom', offset: 0,
      axisLine: {show: true, onZero: false, lineStyle: axisLineStyle},
      axisTick: {show: true, customValues: ttMajorTicks, length: 15, lineStyle: {color: INK, width: 2}},
      axisLabel: {show: true, customValues: ttLabels, margin: 26, fontSize: 20, fontFamily: FONT, color: INK},
      splitLine: {show: false},
      name: '2θ CuKα', nameLocation: 'middle', nameGap: 60, nameTextStyle: {fontSize: 25, fontFamily: FONT, color: INK}},
    {gridIndex: 0, type: 'value', min: 2, max: 30, position: 'bottom', offset: 0,
      axisLine: {show: false, onZero: false},
      axisTick: {show: true, customValues: ttMinorTicks, length: 10, lineStyle: {color: INK, width: 2}},
      axisLabel: {show: false}, splitLine: {show: false}},
    {gridIndex: 1, type: 'value', min: TOP_MIN, max: TOP_MAX, position: 'top', offset: 0,
      axisLine: {show: true, onZero: false, lineStyle: axisLineStyle},
      axisTick: {show: true, inside: true, customValues: dMajorTT, length: 13, lineStyle: {color: INK, width: 2}},
      axisLabel: {show: true, inside: true, customValues: dMajorTT, margin: 16, fontSize: 20, fontFamily: FONT, color: INK,
        showMinLabel: true, showMaxLabel: true,
        formatter: v => { let best = dLabels[0], bd = 1e9; dLabels.forEach(d => { const e = Math.abs(twoTheta(d) - v); if (e < bd) { bd = e; best = d; } }); return String(best); }},
      splitLine: {show: false}},
    {gridIndex: 1, type: 'value', min: TOP_MIN, max: TOP_MAX, position: 'top', offset: 0,
      axisLine: {show: false, onZero: false},
      axisTick: {show: true, inside: true, customValues: dMinorTT, length: 9, lineStyle: {color: INK, width: 2}},
      axisLabel: {show: false}, splitLine: {show: false}}
  ],
  yAxis: [
    {gridIndex: 0, type: 'value', min: 0, max: 1545, show: false},
    {gridIndex: 1, type: 'value', min: 0, max: 1, show: false}
  ],
  series: series,
  graphic: graphic
});

// peak and sample annotations placed through the chart's own scales
const annot = [];
peakLabels.forEach(l => { const p = chart.convertToPixel({gridIndex: 0}, [l[0], l[1]]); annot.push(textEl(l[2], p[0], p[1], 20, 'center')); });
sampleLabels.forEach(l => { const p = chart.convertToPixel({gridIndex: 0}, [l[0], l[1]]); annot.push(textEl(l[2], p[0], p[1], 21, 'center')); });
chart.setOption({graphic: graphic.concat(annot)}, {replaceMerge: ['graphic']});
</script>
</body></html>
